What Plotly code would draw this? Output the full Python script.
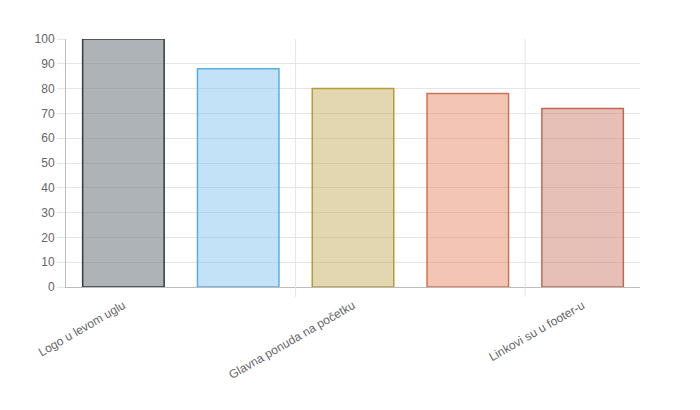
import plotly.graph_objects as go

categories = ["Logo u levom uglu", "Pretraga u zaglavlju", "Glavna ponuda na početku", "Kontakt u zaglavlju", "Linkovi su u footer-u"]
values = [100, 88, 80, 78, 72]
fills = ["rgba(120,128,136,0.6)", "rgba(135,198,242,0.5)", "rgba(200,175,100,0.5)", "rgba(230,140,105,0.5)", "rgba(205,130,110,0.5)"]
borders = ["#343a40", "#5aaee0", "#b89a3a", "#cc7452", "#bf6a50"]
shown_ticks = [0, 2, 4]

fig = go.Figure(go.Bar(
    x=list(range(len(categories))), y=values,
    marker=dict(color=fills, line=dict(color=borders, width=1.5)),
    width=0.71,
))
shapes = [dict(type="line", xref="x", yref="paper", x0=p, x1=p, y0=-0.04, y1=1,
               line=dict(color="#e5e5e5", width=1)) for p in [1.5, 3.5]]
fig.update_layout(
    width=700, height=410, margin=dict(l=58, r=68, t=31, b=131),
    plot_bgcolor="white", paper_bgcolor="white", showlegend=False,
    font=dict(family="Liberation Sans, Arial", size=12, color="#666"),
    shapes=shapes,
    xaxis=dict(range=[-0.5, 4.5], tickvals=shown_ticks,
               ticktext=[categories[i] for i in shown_ticks], tickangle=-30,
               showgrid=False, showline=True, linecolor="#bbb", ticks="outside",
               tickcolor="#fff", ticklen=6),
    yaxis=dict(range=[0, 100], dtick=10, gridcolor="#e5e5e5", showline=True,
               linecolor="#bbb", ticks="outside", tickcolor="#e5e5e5", ticklen=8,
               zeroline=False),
)
fig.write_html("out.html")
